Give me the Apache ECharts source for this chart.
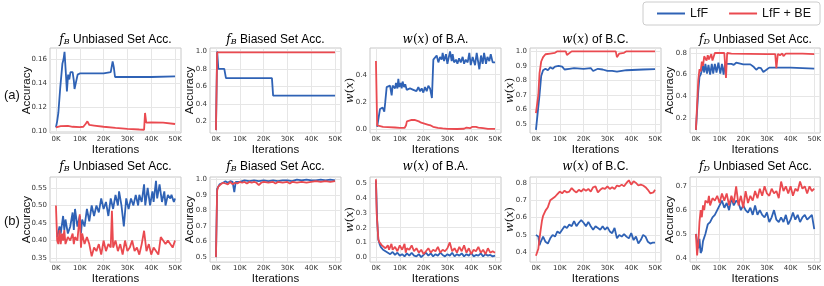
<!DOCTYPE html>
<html><head><meta charset="utf-8">
<script src="https://cdn.jsdelivr.net/npm/echarts@6/dist/echarts.min.js"></script>
<style>html,body{margin:0;padding:0;background:#fff}#c{width:824px;height:286px}</style>
</head><body><div id="c"></div>
<script>
// ---------- labels ----------
const seriesNames = ['LfF', 'LfF + BE'];
const rowLabels = ['(a)', '(b)'];
const panelTitles = [
  '{f|f}{s|B}{t| Unbiased Set Acc.}',
  '{f|f}{s|B}{t| Biased Set Acc.}',
  '{m|w}{p|(}{m|x}{p|)}{t| of B.A.}',
  '{m|w}{p|(}{m|x}{p|)}{t| of B.C.}',
  '{f|f}{s|D}{t| Unbiased Set Acc.}'
];
const yNames = ['{t|Accuracy}', '{t|Accuracy}', '{m|w}{p|(}{m|x}{p|)}', '{m|w}{p|(}{m|x}{p|)}', '{t|Accuracy}'];
const xName = 'Iterations';
const xTicks = [0, 10, 20, 30, 40, 50];

// y tick labels per panel
const yTicks_a = [
  [0.10, 0.12, 0.14, 0.16],
  [0.2, 0.4, 0.6, 0.8, 1.0],
  [0.0, 0.2, 0.4],
  [0.5, 0.6, 0.7, 0.8, 0.9, 1.0],
  [0.2, 0.4, 0.6, 0.8]
];
const yTicks_b = [
  [0.35, 0.40, 0.45, 0.50, 0.55],
  [0.5, 0.6, 0.7, 0.8, 0.9, 1.0],
  [0.0, 0.1, 0.2, 0.3, 0.4, 0.5],
  [0.4, 0.5, 0.6, 0.7, 0.8],
  [0.4, 0.5, 0.6, 0.7]
];
const yDecimals_a = [2, 1, 1, 1, 1];
const yDecimals_b = [2, 1, 1, 1, 1];
const yRange_a = [[0.0983, 0.1692], [0.067, 1.039], [-0.025, 0.595], [0.438, 1.023], [0.0615, 0.846]];
const yRange_b = [[0.3387, 0.581], [0.468, 1.017], [-0.034, 0.545], [0.343, 0.834], [0.382, 0.739]];

// ---------- data: [iteration (K), value] ----------
const a1_lff = [[0,0.103],[0.5,0.108],[1,0.115],[1.5,0.116],[1.8,0.136],[2.3,0.135],[2.7,0.156],[3.2,0.160],[3.6,0.166],[4.1,0.150],[4.6,0.133],[5.1,0.147],[5.6,0.143],[6.1,0.149],[7,0.149],[7.5,0.142],[7.8,0.135],[8.4,0.134],[9.1,0.147],[10,0.148],[15,0.148],[20,0.148],[23,0.149],[23.8,0.158],[24.3,0.153],[24.8,0.145],[30,0.145],[40,0.145],[50,0.1455]];
const a1_be = [[0,0.103],[0.5,0.1045],[2,0.104],[5,0.1042],[7,0.1035],[10,0.1032],[11.5,0.1035],[12.5,0.106],[13.2,0.108],[14,0.105],[16,0.1045],[20,0.1035],[25,0.1025],[30,0.1018],[35,0.1012],[37,0.101],[37.4,0.115],[37.9,0.107],[40,0.1072],[45,0.107],[50,0.1058]];

const a2_lff = [[0,0.1],[0.5,1.0],[1,0.80],[3.5,0.80],[4.2,0.695],[23.5,0.695],[24,0.495],[50,0.495]];
const a2_be = [[0,0.1],[0.5,0.99],[50,0.99]];

const a3_lff = [[0.5,0.02],[1.2,0.03],[1.7,0.15],[2.8,0.16],[3.1,0.17],[3.5,0.13],[3.9,0.20],[4.5,0.31],[5.2,0.30],[5.9,0.32],[6.6,0.25],[7,0.32],[8,0.30],[8.4,0.34],[9,0.30],[9.4,0.37],[9.8,0.31],[10.4,0.34],[10.8,0.30],[11.2,0.35],[11.8,0.31],[12.3,0.33],[12.9,0.29],[14.3,0.30],[15.7,0.29],[16.4,0.30],[17,0.28],[17.8,0.31],[18.5,0.28],[19.2,0.30],[19.9,0.27],[20.6,0.31],[21.3,0.28],[22,0.32],[22.7,0.30],[23.5,0.23],[24.1,0.51],[24.8,0.50],[25.5,0.54],[26.2,0.49],[26.9,0.53],[27.6,0.51],[28,0.56],[28.6,0.50],[29.4,0.55],[30,0.48],[31.1,0.57],[31.8,0.50],[32.2,0.55],[32.8,0.49],[33.6,0.51],[34.2,0.48],[34.9,0.52],[35.6,0.49],[36.4,0.53],[37,0.48],[37.7,0.51],[38.5,0.49],[39.2,0.56],[39.8,0.47],[40.6,0.53],[41.6,0.47],[42.3,0.56],[43.4,0.44],[44.1,0.54],[44.8,0.48],[45.4,0.56],[46.2,0.48],[46.8,0.53],[47.6,0.50],[48.2,0.55],[49,0.49],[50,0.49]];
const a3_be = [[0,0.50],[0.5,0.03],[1,0.02],[3,0.02],[5,0.018],[8,0.015],[10,0.012],[12,0.012],[12.6,0.03],[13,0.06],[14,0.065],[15,0.07],[15.5,0.08],[16.2,0.07],[17,0.065],[18,0.06],[19,0.05],[20,0.045],[21,0.04],[22,0.035],[23,0.03],[24,0.02],[26,0.012],[28,0.008],[30,0.005],[34,0.004],[37,0.006],[38,0.015],[38.7,0.02],[39.5,0.01],[40.5,0.02],[41.3,0.025],[42,0.02],[43,0.015],[45,0.01],[47,0.005],[50,0.005]];

const a4_lff = [[0,0.46],[0.8,0.465],[1.5,0.70],[2.2,0.83],[3,0.87],[4,0.88],[5,0.87],[6,0.89],[7,0.88],[8,0.895],[9.5,0.90],[10,0.905],[11,0.895],[12,0.875],[14,0.88],[16,0.885],[20,0.88],[23,0.885],[24,0.865],[26,0.88],[28,0.875],[30,0.865],[32,0.865],[34,0.86],[36,0.865],[38,0.87],[45,0.875],[50,0.877]];
const a4_be = [[0,0.575],[0.5,0.58],[1,0.70],[1.5,0.85],[2.2,0.93],[3,0.96],[4,0.98],[6,0.985],[8,0.99],[9,1.0],[12.5,1.0],[13,0.975],[13.5,0.98],[15,1.0],[33.5,1.0],[34,0.96],[35,0.985],[37,0.99],[38,1.0],[50,1.0]];

const a5_lff = [[0,0.09],[1,0.45],[1.5,0.58],[2,0.60],[3,0.68],[3.5,0.62],[4,0.70],[4.7,0.61],[5.3,0.69],[6,0.60],[6.7,0.70],[7.3,0.61],[8,0.70],[8.7,0.62],[9.5,0.71],[10.3,0.61],[11,0.70],[11.7,0.60],[12.3,0.70],[13,0.71],[15,0.70],[16,0.69],[17,0.71],[20,0.695],[23,0.695],[24.5,0.67],[25.5,0.645],[26.5,0.665],[27.5,0.66],[28.5,0.625],[29.5,0.64],[31,0.665],[40,0.665],[45,0.66],[50,0.655]];
const a5_be = [[0,0.09],[1,0.55],[1.5,0.65],[2,0.63],[2.5,0.72],[3,0.68],[3.5,0.77],[4.5,0.73],[5,0.78],[5.5,0.74],[6.5,0.79],[7,0.73],[8,0.80],[12,0.80],[12.7,0.57],[13.2,0.80],[15,0.795],[30,0.79],[33.5,0.79],[34,0.66],[34.6,0.79],[35.5,0.78],[36.5,0.795],[37,0.77],[38,0.795],[45,0.795],[50,0.79]];

const b1_lff = [[0.5,0.41],[1.5,0.44],[2,0.42],[3,0.47],[3.5,0.43],[4,0.46],[5,0.42],[6,0.44],[7,0.48],[7.5,0.43],[8,0.49],[9,0.44],[10,0.47],[10.5,0.42],[11,0.46],[12,0.44],[13,0.49],[14,0.455],[15,0.50],[16,0.47],[17,0.50],[18,0.48],[19,0.52],[20,0.49],[21,0.51],[22,0.47],[23,0.52],[24,0.49],[25,0.53],[26,0.50],[26.5,0.54],[27.5,0.50],[28.5,0.44],[29.5,0.52],[30.5,0.49],[31.5,0.52],[32.5,0.50],[33.5,0.53],[34.5,0.50],[35,0.53],[36,0.51],[37,0.56],[37.5,0.50],[38.5,0.55],[39.5,0.50],[40.5,0.54],[41,0.51],[42,0.57],[42.5,0.52],[43.5,0.56],[44.5,0.51],[45.5,0.54],[46,0.50],[47,0.53],[48,0.52],[48.5,0.53],[49.5,0.51],[50,0.52]];
const b1_be = [[0,0.50],[0.5,0.40],[1,0.39],[1.5,0.43],[2,0.39],[2.5,0.42],[3,0.40],[3.5,0.43],[4,0.39],[5,0.41],[6,0.40],[7,0.42],[7.5,0.39],[8,0.41],[9,0.40],[10,0.475],[10.5,0.38],[11,0.42],[12,0.39],[13,0.41],[14,0.39],[15,0.355],[16,0.38],[17,0.37],[18,0.39],[19,0.36],[20,0.40],[21,0.37],[22,0.39],[23,0.38],[23.5,0.485],[24,0.38],[25,0.40],[26,0.37],[27,0.39],[28,0.36],[29,0.40],[30,0.37],[31,0.38],[32,0.40],[33,0.37],[34,0.38],[35,0.36],[36,0.39],[37,0.428],[38,0.37],[39,0.39],[40,0.36],[41,0.38],[42,0.37],[43,0.36],[44,0.41],[45,0.40],[46,0.39],[47,0.40],[48,0.39],[49,0.38],[50,0.40]];

const b2_lff = [[0,0.5],[0.5,0.94],[1,0.95],[1.5,0.97],[2,0.96],[3,0.98],[4,0.99],[5,0.98],[6,0.99],[7,0.985],[7.7,0.92],[8.3,0.985],[9,0.99],[10,0.985],[11,0.99],[12,0.995],[14,0.99],[16,0.995],[18,0.99],[20,0.995],[22,0.99],[24,0.995],[26,0.99],[28,0.995],[30,0.995],[32,0.99],[34,1.0],[36,0.995],[38,1.0],[40,0.995],[42,0.995],[44,1.0],[46,0.995],[48,1.0],[50,0.995]];
const b2_be = [[0,0.5],[0.5,0.93],[1,0.955],[1.5,0.96],[2,0.97],[2.5,0.975],[3,0.98],[4,0.975],[5,0.97],[6,0.985],[7,0.97],[8,0.98],[9,0.975],[10,0.985],[11,0.98],[12,0.985],[13,0.975],[14,0.985],[15,0.98],[16,0.985],[17,0.98],[18,0.965],[19,0.98],[20,0.985],[22,0.98],[24,0.985],[25,0.975],[26,0.985],[28,0.98],[30,0.985],[31,0.975],[32,0.985],[34,0.98],[36,0.985],[38,0.98],[40,0.985],[42,0.99],[44,0.985],[46,0.99],[48,0.985],[50,0.99]];

const b3_lff = [[0,0.52],[0.5,0.25],[1,0.12],[1.5,0.09],[2,0.07],[3,0.05],[4,0.04],[5,0.03],[6,0.02],[7,0.035],[8,0.015],[9,0.03],[10,0.01],[11,0.02],[12,0.005],[13,0.025],[14,0.01],[15,0.03],[16,0.01],[17,0.005],[18,0.02],[19,0.0],[20,0.015],[21,0.03],[22,0.01],[23,0.025],[24,0.005],[25,0.02],[26,0.01],[27,0.03],[28,0.015],[29,0.005],[30,0.02],[31,0.01],[32,0.03],[33,0.005],[34,0.02],[35,0.01],[36,0.025],[37,0.005],[38,0.02],[39,0.01],[40,0.03],[41,0.005],[42,0.015],[43,0.01],[44,0.025],[45,0.005],[46,0.02],[47,0.01],[48,0.015],[49,0.005],[50,0.01]];
const b3_be = [[0,0.53],[0.3,0.30],[1,0.12],[1.5,0.10],[2,0.11],[2.5,0.08],[3,0.09],[4,0.06],[5,0.08],[5.5,0.05],[6.5,0.09],[7,0.05],[8,0.07],[9,0.04],[10,0.08],[11,0.05],[12,0.09],[12.5,0.03],[13,0.06],[14,0.05],[15,0.08],[16,0.04],[17,0.06],[18,0.03],[19,0.05],[20,0.02],[21,0.04],[22,0.06],[23,0.03],[24,0.05],[25,0.04],[26,0.07],[27,0.03],[28,0.05],[29,0.04],[30,0.06],[31,0.10],[32,0.04],[33,0.06],[34,0.03],[35,0.07],[36,0.04],[37,0.08],[38,0.03],[39,0.06],[40,0.02],[41,0.05],[42,0.04],[43,0.07],[44,0.03],[45,0.05],[46,0.02],[47,0.06],[48,0.03],[49,0.04],[50,0.03]];

const b4_lff = [[0,0.50],[0.5,0.51],[1,0.49],[1.5,0.44],[2,0.46],[3,0.49],[4,0.46],[5,0.45],[6,0.48],[7,0.50],[8,0.49],[9,0.52],[10,0.51],[11,0.53],[12,0.55],[13,0.54],[14,0.56],[15,0.55],[16,0.58],[17,0.55],[18,0.57],[19,0.585],[20,0.57],[21,0.55],[22,0.575],[23,0.55],[24,0.53],[25,0.55],[26,0.54],[27,0.53],[28,0.55],[29,0.53],[30,0.545],[31,0.52],[32,0.51],[33,0.54],[34,0.48],[35,0.50],[36,0.49],[37,0.505],[38,0.49],[39,0.48],[40,0.51],[41,0.47],[42,0.49],[43,0.45],[44,0.47],[45,0.50],[46,0.49],[47,0.46],[48,0.45],[49,0.455],[50,0.455]];
const b4_be = [[0,0.38],[0.5,0.37],[1,0.42],[1.5,0.48],[2,0.53],[2.5,0.58],[3,0.61],[4,0.64],[5,0.66],[6,0.70],[7,0.71],[8,0.72],[9,0.735],[10,0.75],[11,0.74],[12,0.755],[13,0.745],[14,0.75],[15,0.77],[16,0.755],[17,0.745],[18,0.76],[19,0.75],[20,0.765],[21,0.755],[22,0.765],[23,0.75],[24,0.775],[25,0.78],[26,0.745],[27,0.76],[28,0.77],[29,0.765],[30,0.78],[31,0.765],[32,0.775],[33,0.765],[34,0.785],[35,0.78],[36,0.79],[37,0.78],[38,0.80],[39,0.815],[40,0.79],[41,0.81],[42,0.80],[43,0.785],[44,0.79],[45,0.785],[46,0.775],[47,0.76],[48,0.74],[48.5,0.735],[49.3,0.745],[50,0.76]];

const b5_lff = [[0,0.50],[0.5,0.47],[1,0.44],[1.5,0.48],[2,0.42],[2.5,0.43],[3,0.47],[4,0.50],[5,0.54],[6,0.55],[7,0.57],[8,0.58],[9,0.60],[10,0.62],[11,0.64],[12,0.61],[13,0.63],[14,0.60],[15,0.65],[16,0.62],[17,0.64],[18,0.63],[19,0.60],[20,0.62],[21,0.60],[22,0.59],[23,0.61],[24,0.58],[25,0.62],[26,0.58],[27,0.60],[28,0.58],[29,0.57],[30,0.59],[31,0.55],[32,0.57],[33,0.60],[34,0.56],[35,0.55],[36,0.57],[37,0.55],[38,0.58],[39,0.54],[40,0.56],[41,0.59],[42,0.56],[43,0.58],[44,0.55],[45,0.57],[46,0.58],[47,0.56],[48,0.57],[49,0.58],[50,0.52]];
const b5_be = [[0,0.50],[0.5,0.41],[1,0.46],[1.5,0.55],[2,0.60],[2.5,0.57],[3,0.62],[3.5,0.60],[4,0.64],[5,0.63],[5.5,0.66],[6,0.62],[7,0.65],[8,0.64],[9,0.66],[10,0.63],[11,0.67],[12,0.64],[13,0.67],[14,0.62],[15,0.66],[16,0.63],[17,0.70],[18,0.62],[19,0.66],[20,0.61],[21,0.68],[22,0.63],[23,0.66],[24,0.64],[25,0.68],[26,0.65],[27,0.69],[28,0.66],[29,0.70],[30,0.67],[31,0.66],[32,0.69],[33,0.67],[34,0.68],[35,0.65],[36,0.72],[37,0.68],[38,0.70],[39,0.67],[40,0.70],[41,0.66],[42,0.69],[43,0.68],[44,0.72],[45,0.69],[46,0.70],[47,0.67],[48,0.70],[49,0.68],[50,0.69]];

const rowData = [
  [[a1_lff, a1_be], [a2_lff, a2_be], [a3_lff, a3_be], [a4_lff, a4_be], [a5_lff, a5_be]],
  [[b1_lff, b1_be], [b2_lff, b2_be], [b3_lff, b3_be], [b4_lff, b4_be], [b5_lff, b5_be]]
];

// ---------- layout / style ----------
const colors = ['#2f62b5', '#ea4a50'];
const gridLefts = [50, 210, 370, 530, 690];
const gridTops = [48, 177];
const gridHeights = [85, 86];
const gridWidth = 131;
const titleY = [40, 167];
const rowLabelY = [97, 223];
const xNameGap = [11, 8];

const richTitle = {
  f: { fontFamily: 'DejaVu Serif', fontStyle: 'italic', fontSize: 12, color: '#111' },
  s: { fontFamily: 'DejaVu Serif', fontStyle: 'italic', fontSize: 8, color: '#111', verticalAlign: 'bottom', lineHeight: 8 },
  t: { fontFamily: 'Liberation Sans', fontSize: 12, color: '#111' },
  m: { fontFamily: 'DejaVu Serif', fontStyle: 'italic', fontSize: 12, color: '#111' },
  p: { fontFamily: 'DejaVu Serif', fontSize: 12, color: '#111' }
};
const richYName = {
  t: { fontFamily: 'Liberation Sans', fontSize: 11.5, color: '#111' },
  m: { fontFamily: 'DejaVu Serif', fontStyle: 'italic', fontSize: 11.5, color: '#111' },
  p: { fontFamily: 'DejaVu Serif', fontSize: 11.5, color: '#111' }
};

const grid = [], xAxis = [], yAxis = [], series = [], graphic = [];
const yTicksAll = [yTicks_a, yTicks_b];
const yDecAll = [yDecimals_a, yDecimals_b];
const yRangeAll = [yRange_a, yRange_b];

for (let r = 0; r < 2; r++) {
  graphic.push({ type: 'text', left: 4, top: rowLabelY[r] - 8,
    style: { text: rowLabels[r], font: '13px "Liberation Sans"', fill: '#111' } });
  for (let c = 0; c < 5; c++) {
    const idx = r * 5 + c;
    grid.push({ left: gridLefts[c], top: gridTops[r], width: gridWidth, height: gridHeights[r],
      show: true, borderColor: '#c8c8c8', borderWidth: 1, backgroundColor: '#fff' });
    xAxis.push({
      gridIndex: idx, type: 'value', min: -2.5, max: 52.5,
      axisLine: { show: false },
      axisTick: { show: false, customValues: xTicks },
      splitLine: { show: true, lineStyle: { color: '#e6e6e6', width: 1 } },
      axisLabel: { customValues: xTicks, formatter: v => v + 'K', fontSize: 7, color: '#333',
        fontFamily: 'DejaVu Sans', margin: 3 },
      name: xName, nameLocation: 'middle', nameGap: xNameGap[r],
      nameTextStyle: { fontSize: 11.5, fontFamily: 'Liberation Sans', color: '#111' }
    });
    const ticks = yTicksAll[r][c], dec = yDecAll[r][c], rng = yRangeAll[r][c];
    yAxis.push({
      gridIndex: idx, type: 'value', min: rng[0], max: rng[1],
      axisLine: { show: false },
      axisTick: { show: false, customValues: ticks },
      splitLine: { show: true, lineStyle: { color: '#e6e6e6', width: 1 } },
      axisLabel: { customValues: ticks, formatter: v => v.toFixed(dec), fontSize: 7, color: '#333',
        fontFamily: 'DejaVu Sans', margin: 3 },
      name: yNames[c], nameLocation: 'middle', nameMoveOverlap: false,
      nameGap: dec === 2 ? 17 : 14,
      nameTextStyle: { rich: richYName }
    });
    graphic.push({ type: 'text', x: gridLefts[c] + gridWidth / 2, y: titleY[r],
      style: { text: panelTitles[c], rich: richTitle, align: 'center', verticalAlign: 'middle' } });
    for (let s = 0; s < 2; s++) {
      series.push({
        type: 'line', name: seriesNames[s], xAxisIndex: idx, yAxisIndex: idx,
        data: rowData[r][c][s], symbol: 'none', showSymbol: false,
        lineStyle: { width: 1.8, color: colors[s] }, itemStyle: { color: colors[s] },
        z: 2 + s, animation: false
      });
    }
  }
}

const chart = echarts.init(document.getElementById('c'), null, { renderer: 'canvas' });
chart.setOption({
  animation: false,
  color: colors,
  legend: {
    data: seriesNames, left: 643, top: 2, padding: [5, 9, 5, 14],
    icon: 'rect', itemWidth: 28, itemHeight: 2, itemGap: 21,
    borderColor: '#cccccc', borderWidth: 1, borderRadius: 3,
    textStyle: { fontSize: 12.5, fontFamily: 'Liberation Sans', color: '#111', padding: [1, 0, 0, 0] }
  },
  grid, xAxis, yAxis, series, graphic
});
</script>
</body></html>
